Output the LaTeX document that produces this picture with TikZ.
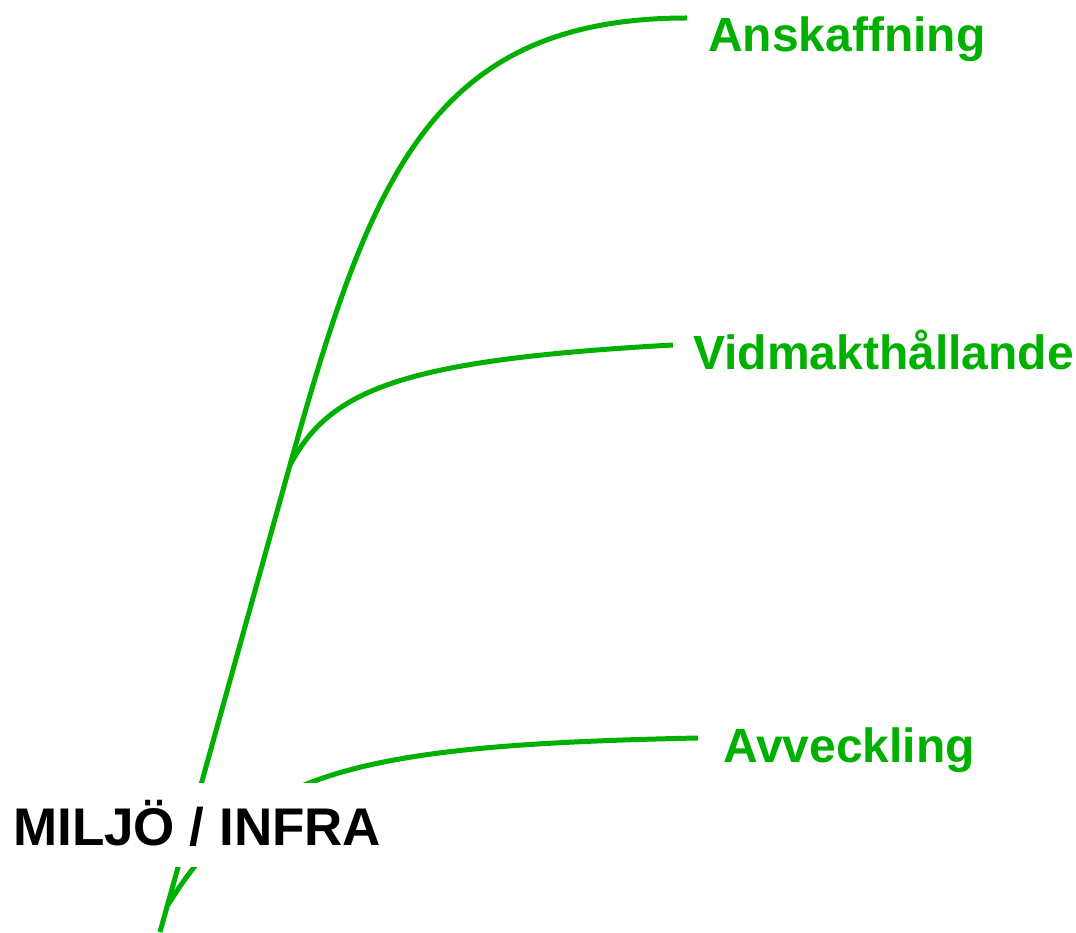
\documentclass[tikz,border=0pt]{standalone}
\usepackage{fontspec}
\setmainfont{Liberation Sans}
\definecolor{branchgreen}{RGB}{0,176,0}
\tikzset{
  branch/.style={draw=branchgreen, line width=5pt, line cap=butt},
  greenlabel/.style={anchor=base west, inner sep=0pt, text=branchgreen,
    font=\fontsize{48}{58}\selectfont\bfseries},
  mainlabel/.style={anchor=base west, fill=white, inner xsep=5pt, inner ysep=0pt,
    text height=62pt, text depth=22pt,
    font=\fontsize{53}{64}\selectfont\bfseries}
}
\begin{document}
\begin{tikzpicture}[x=1pt,y=-1pt]
\useasboundingbox (0,0) rectangle (1076,933);
\coordinate (root) at (160,932);
\coordinate (fork) at (290,465);
\coordinate (avstart) at (168,905);
\coordinate (endA) at (687,18);
\coordinate (endV) at (673,345);
\coordinate (endW) at (698,738);
% main stem to Anskaffning
\draw[branch] (root) -- (fork) .. controls (370,180) and (430,18) .. (endA);
% branch to Vidmakthallande
\draw[branch] (fork) .. controls (330,390) and (400,360) .. (endV);
% branch to Avveckling
\draw[branch] (avstart) .. controls (250,770) and (360,745) .. (endW);
% labels
\node[mainlabel] (miljo) at (8,845) {MILJÖ / INFRA};
\node[greenlabel] (ansk) at (708,52) {Anskaffning};
\node[greenlabel] (vidm) at (693,369) {Vidmakthållande};
\node[greenlabel] (avv) at (723,762) {Avveckling};
\end{tikzpicture}
\end{document}
